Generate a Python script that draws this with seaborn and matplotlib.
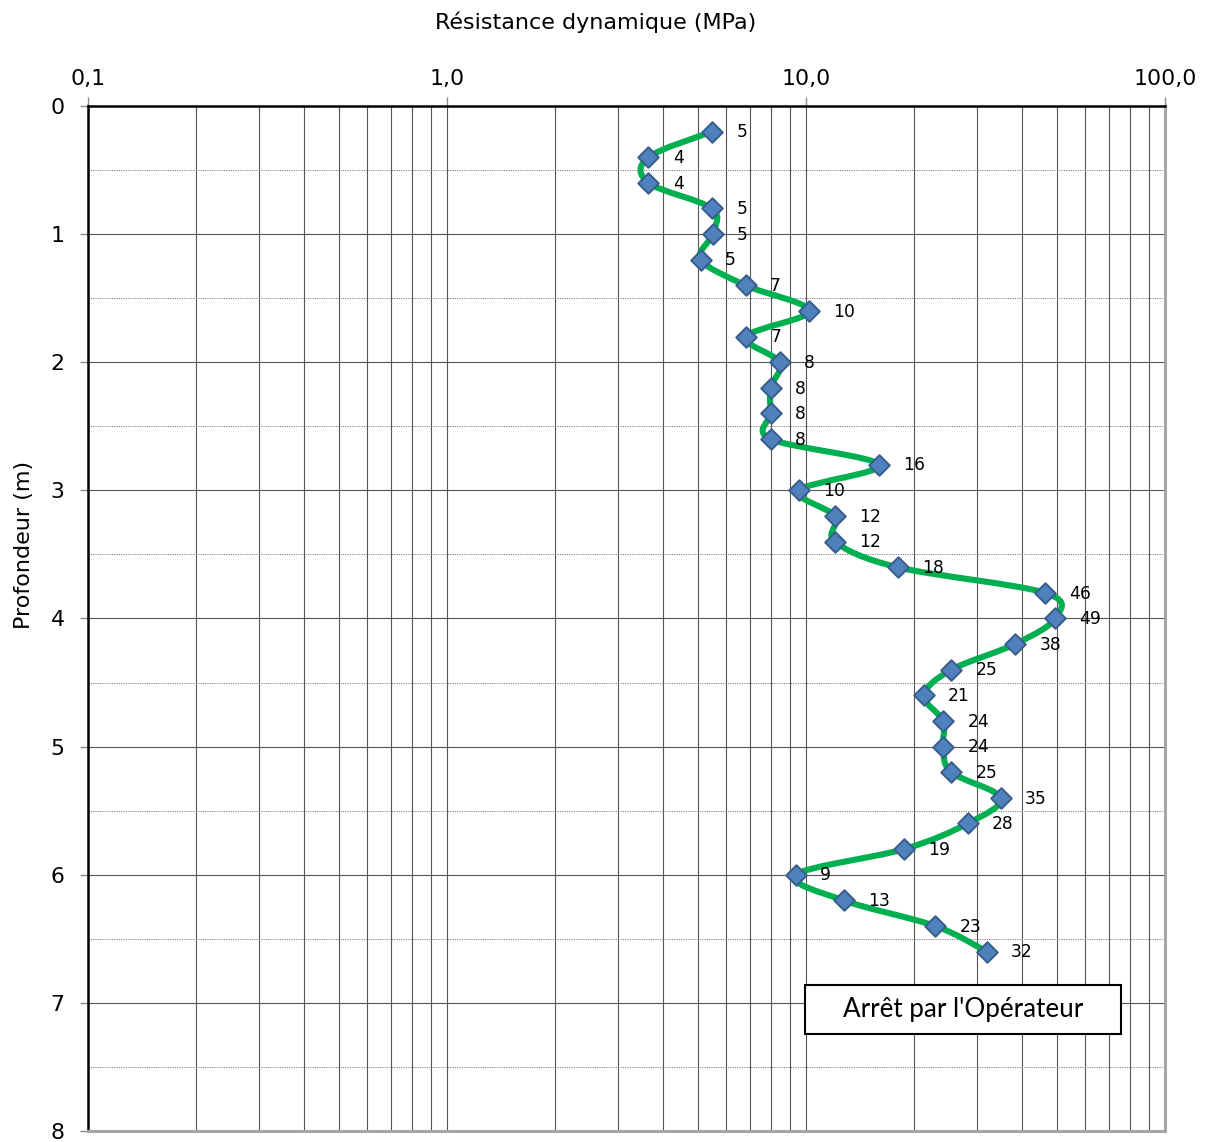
import numpy as np
import pandas as pd
import matplotlib
matplotlib.use("Agg")
import matplotlib.pyplot as plt
from matplotlib.path import Path
from matplotlib.patches import PathPatch, Rectangle
from matplotlib.ticker import FixedLocator, FixedFormatter, NullFormatter
import seaborn as sns

# Penetrometer record: depth (m) and dynamic resistance (MPa)
depth = [0.2, 0.4, 0.6, 0.8, 1.0, 1.2, 1.4, 1.6, 1.8, 2.0, 2.2, 2.4, 2.6, 2.8, 3.0,
         3.2, 3.4, 3.6, 3.8, 4.0, 4.2, 4.4, 4.6, 4.8, 5.0, 5.2, 5.4, 5.6, 5.8, 6.0,
         6.2, 6.4, 6.6]
resistance = [5.47, 3.64, 3.64, 5.47, 5.49, 5.09, 6.79, 10.21, 6.81, 8.45, 7.97, 7.97,
              7.97, 15.96, 9.57, 12.04, 12.04, 17.99, 46.4, 49.4, 38.2, 25.4, 21.3,
              24.1, 24.1, 25.4, 34.9, 28.2, 18.77, 9.37, 12.72, 22.9, 31.9]

x_ticks = [0.1, 1.0, 10.0, 100.0]
x_tick_labels = ["0,1", "1,0", "10,0", "100,0"]
y_ticks = [0, 1, 2, 3, 4, 5, 6, 7, 8]

df = pd.DataFrame({"depth": depth, "resistance": resistance})

sns.set_style("white")
plt.rcParams["font.family"] = ["DejaVu Sans"]
plt.rcParams["text.color"] = "black"
plt.rcParams["xtick.labelcolor"] = "black"
plt.rcParams["ytick.labelcolor"] = "black"

W, H = 1208, 1142
fig = plt.figure(figsize=(W / 100, H / 100), dpi=100)
ax = fig.add_axes([88 / W, 1 - 1131 / H, (1165 - 88) / W, (1131 - 106) / H])

ax.set_xscale("log")
ax.set_xlim(0.1, 100)
ax.set_ylim(8, 0)

# Smoothed curve: Catmull-Rom -> cubic Bezier in (log10 x, depth) space
lx = np.log10(np.asarray(df["resistance"], dtype=float))
ly = np.asarray(df["depth"], dtype=float)
pts = np.column_stack([lx, ly])
n = len(pts)
verts = [pts[0]]
codes = [Path.MOVETO]
for i in range(n - 1):
    p0 = pts[i - 1] if i > 0 else pts[i]
    p1 = pts[i]
    p2 = pts[i + 1]
    p3 = pts[i + 2] if i + 2 < n else pts[i + 1]
    c1 = p1 + (p2 - p0) / 6.0
    c2 = p2 - (p3 - p1) / 6.0
    verts += [c1, c2, p2]
    codes += [Path.CURVE4] * 3
verts = np.array(verts)
verts_data = np.column_stack([10 ** verts[:, 0], verts[:, 1]])
curve = PathPatch(Path(verts_data, codes), facecolor="none", edgecolor="#00B050",
                  lw=4.4, capstyle="round", joinstyle="round", zorder=3)
ax.add_patch(curve)

sns.scatterplot(data=df, x="resistance", y="depth", marker="D", s=110,
                color="#4F81BD", edgecolor="#385D8A", linewidth=1.4,
                zorder=4, ax=ax, legend=False)

for xv, yv in zip(resistance, depth):
    ax.annotate(f"{xv:.0f}", xy=(xv, yv), xytext=(17.5, -0.5), textcoords="offset points",
                ha="left", va="center", fontsize=12.3, color="black", zorder=5)

# Axes, ticks and grid
ax.xaxis.set_major_locator(FixedLocator(x_ticks))
ax.xaxis.set_major_formatter(FixedFormatter(x_tick_labels))
minor_x = [m * 10.0 ** e for e in (-1, 0, 1) for m in range(2, 10)]
ax.xaxis.set_minor_locator(FixedLocator(minor_x))
ax.xaxis.set_minor_formatter(NullFormatter())
ax.xaxis.tick_top()
ax.xaxis.set_label_position("top")
ax.set_yticks(y_ticks)
ax.set_yticklabels([str(v) for v in y_ticks])
ax.yaxis.set_minor_locator(FixedLocator(np.arange(0.5, 8, 1.0)))

ax.tick_params(axis="x", which="major", direction="out", length=6.5, width=1,
               color="#8c8c8c", labelsize=15.8, labelcolor="black", pad=6.0,
               top=True, bottom=False)
ax.tick_params(axis="x", which="minor", length=0)
ax.tick_params(axis="y", which="major", direction="out", length=5.8, width=1,
               color="#8c8c8c", labelsize=15.8, labelcolor="black", pad=11.0, left=True)
ax.tick_params(axis="y", which="minor", length=0)

grid_col = "#555555"
ax.grid(True, axis="x", which="both", color=grid_col, lw=0.8, zorder=1)
ax.grid(True, axis="y", which="major", color=grid_col, lw=0.8, zorder=1)
ax.grid(True, axis="y", which="minor", color="#808080", lw=0.7,
        linestyle=(0, (1.2, 1.2)), zorder=1)
ax.set_axisbelow(True)

ax.spines["left"].set_color("black")
ax.spines["left"].set_linewidth(1.8)
ax.spines["top"].set_color("black")
ax.spines["top"].set_linewidth(1.8)
ax.spines["right"].set_color("#a6a6a6")
ax.spines["right"].set_linewidth(2.2)
ax.spines["bottom"].set_color("#a6a6a6")
ax.spines["bottom"].set_linewidth(2.2)

ax.set_xlabel("")
ax.set_ylabel("")

fig.text(596 / W, 1 - 29 / H, "Résistance dynamique (MPa)", ha="center",
         va="baseline", fontsize=16, color="black")
fig.text(24 / W, 1 - 545 / H, "Profondeur (m)", ha="center", va="center",
         rotation=90, fontsize=16, color="black")

# Note box
box = Rectangle((805 / W, 1 - 1034 / H), (1121 - 805) / W, (1034 - 985) / H,
                transform=fig.transFigure, facecolor="white", edgecolor="black",
                lw=1.5, zorder=10)
fig.add_artist(box)
fig.text(963 / W, 1 - 1010 / H, "Arrêt par l'Opérateur", ha="center", va="center",
         fontsize=18.7, family=["Lato", "DejaVu Sans"], color="black", zorder=11)

fig.savefig("out.png", dpi=100)
